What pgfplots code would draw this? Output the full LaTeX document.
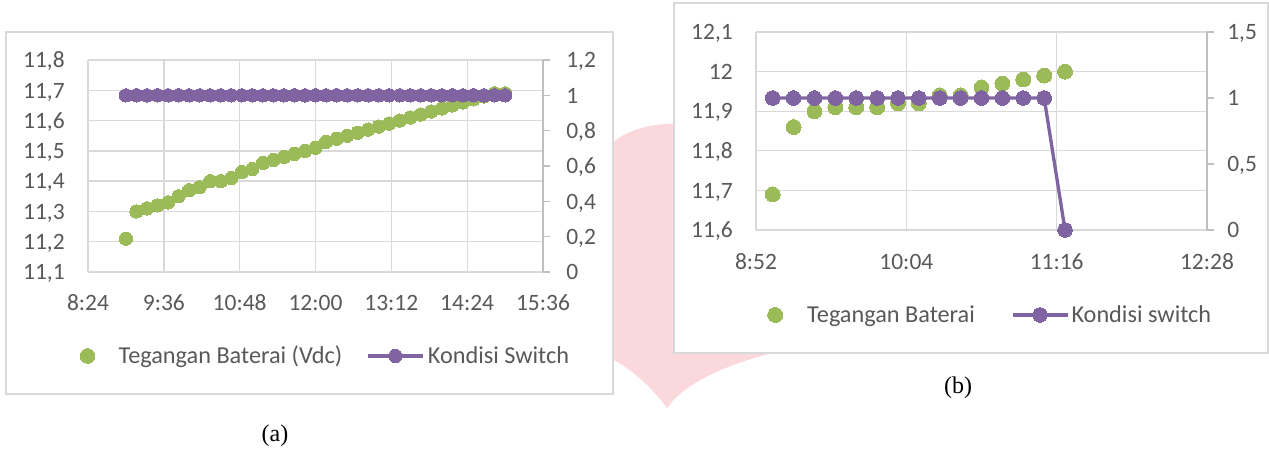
\documentclass[border=0pt]{standalone}
\usepackage{pgfplots}
\pgfplotsset{compat=1.18}
\usepackage{fontspec}
\setmainfont{Carlito}
\newfontfamily\capfont{Liberation Serif}
\definecolor{eg}{HTML}{9BBB59}
\definecolor{ep}{HTML}{8064A2}
\definecolor{gridc}{HTML}{D9D9D9}
\definecolor{axc}{HTML}{BFBFBF}
\definecolor{txt}{HTML}{595959}
\definecolor{pinkw}{RGB}{251,216,219}
\newcommand\xlf{\fontsize{17.6}{20}\selectfont}
\newcommand\lgf{\fontsize{18.2}{21}\selectfont}

\pgfplotsset{
  excelbase/.style={
    scale only axis, anchor=south west,
    tick label style={font=\xlf, text=txt, inner sep=0pt},
    /pgf/number format/use comma,
    /pgf/number format/fixed,
    /pgf/number format/precision=1,
    /pgf/number format/assume math mode=true,
  },
  greenimg/.style={legend image code/.code={\draw[##1] plot coordinates {(0pt,0pt)}; \path[draw=none,fill=none] (-5.5pt,0pt) -- (#1,0pt);}},
  purpleimg/.style={legend image code/.code={\draw[##1, mark repeat=2, mark phase=2] plot coordinates {(0pt,0pt) (20.625pt,0pt) (41.25pt,0pt)}; \path[draw=none,fill=none] (0pt,0pt) -- (#1,0pt);}},
  greensty/.style={only marks, mark=*, mark size=#1, color=eg, mark options={fill=eg, draw=eg, line width=0pt}},
  purplesty/.style={color=ep, line width=2.5pt, mark=*, mark size=#1, mark options={fill=ep, draw=ep, line width=0pt}},
}

\pgfplotstableread{
x y
540 11.21
550 11.30
560 11.31
570 11.32
580 11.33
590 11.35
600 11.37
610 11.38
620 11.40
630 11.40
640 11.41
650 11.43
660 11.44
670 11.46
680 11.47
690 11.48
700 11.49
710 11.50
720 11.51
730 11.53
740 11.54
750 11.55
760 11.56
770 11.57
780 11.58
790 11.59
800 11.60
810 11.61
820 11.62
830 11.63
840 11.64
850 11.65
860 11.66
870 11.67
880 11.68
890 11.69
900 11.69
}\teganganA

\pgfplotstableread{
x y
540 1
550 1
560 1
570 1
580 1
590 1
600 1
610 1
620 1
630 1
640 1
650 1
660 1
670 1
680 1
690 1
700 1
710 1
720 1
730 1
740 1
750 1
760 1
770 1
780 1
790 1
800 1
810 1
820 1
830 1
840 1
850 1
860 1
870 1
880 1
890 1
900 1
}\switchA

\pgfplotstableread{
x y
540 11.69
550 11.86
560 11.90
570 11.91
580 11.91
590 11.91
600 11.92
610 11.92
620 11.94
630 11.94
640 11.96
650 11.97
660 11.98
670 11.99
680 12.00
}\teganganB

\pgfplotstableread{
x y
540 1
550 1
560 1
570 1
580 1
590 1
600 1
610 1
620 1
630 1
640 1
650 1
660 1
670 1
680 0
}\switchB

\begin{document}
\begin{tikzpicture}
\begin{scope}[x=0.75pt,y=-0.75pt]
  \fill[pinkw] (606,150) .. controls (622,128) and (660,120) .. (700,125) -- (800,125) -- (800,353) -- (772,353)
     .. controls (722,366) and (684,384) .. (667,408) .. controls (652,388) and (632,368) .. (606,356) -- cycle;
  \filldraw[fill=white, draw=gridc, line width=0.8pt] (6,32) rectangle (613,394);
  \filldraw[fill=white, draw=gridc, line width=0.8pt] (674,3) rectangle (1268,353);
  \node[font=\capfont\fontsize{18}{20}\selectfont, text=black] at (275,436) {(a)};
  \node[font=\capfont\fontsize{18}{20}\selectfont, text=black] at (958,388) {(b)};
\end{scope}

% ---------------- chart (a) ----------------
\begin{axis}[excelbase,
  at={({88*0.75pt},{-272*0.75pt})},
  width=341.25pt, height=159pt,
  xmin=504, xmax=936, ymin=11.1, ymax=11.8,
  xtick={504,576,648,720,792,864,936},
  xticklabels={8:24,9:36,10:48,12:00,13:12,14:24,15:36},
  ytick={11.1,11.2,11.3,11.4,11.5,11.6,11.7,11.8},
  grid=major, grid style={gridc, line width=1pt},
  axis line style={draw=none},
  major tick length=0pt,
  xticklabel style={anchor=base, yshift=-28.8pt},
  yticklabel style={anchor=base east, xshift=-17.25pt, yshift=-5.8pt},
]
\addplot[greensty=5pt] table[x=x,y=y] {\teganganA};
\end{axis}
\begin{axis}[excelbase,
  at={({88*0.75pt},{-272*0.75pt})},
  width=341.25pt, height=159pt,
  xmin=504, xmax=936, ymin=0, ymax=1.2,
  axis x line=none, axis y line*=right,
  ytick={0,0.2,0.4,0.6,0.8,1,1.2},
  tick align=outside, major tick length=5.25pt,
  axis line style={axc, line width=1pt},
  y tick style={axc, line width=1pt},
  yticklabel style={anchor=base west, xshift=12pt, yshift=-5.8pt},
  legend columns=2, legend cell align=left,
  legend style={draw=none, fill=none, font=\lgf, text=txt,
    inner xsep=0pt, inner ysep=0pt, nodes={inner sep=0pt},
    at={(-0.0176,-0.396)}, anchor=west,
    /tikz/every even column/.append style={column sep=18pt}},
]
\addlegendimage{greensty=5.5pt, greenimg=23.25pt}
\addlegendentry{Tegangan Baterai (Vdc)}
\addplot[purplesty=5pt, purpleimg=45pt] table[x=x,y=y] {\switchA};
\addlegendentry{Kondisi Switch}
\end{axis}

% ---------------- chart (b) ----------------
\begin{axis}[excelbase,
  at={({756*0.75pt},{-230*0.75pt})},
  width=338.25pt, height=148.5pt,
  xmin=532, xmax=748, ymin=11.6, ymax=12.1,
  xtick={532,604,676,748},
  xticklabels={8:52,10:04,11:16,12:28},
  ytick={11.6,11.7,11.8,11.9,12,12.1},
  grid=major, grid style={gridc, line width=1pt},
  axis line style={draw=none},
  major tick length=0pt,
  xticklabel style={anchor=base, yshift=-29.5pt},
  yticklabel style={anchor=base east, xshift=-17.25pt, yshift=-5.8pt},
]
\addplot[greensty=5.6pt] table[x=x,y=y] {\teganganB};
\end{axis}
\begin{axis}[excelbase,
  at={({756*0.75pt},{-230*0.75pt})},
  width=338.25pt, height=148.5pt,
  xmin=532, xmax=748, ymin=0, ymax=1.5,
  axis x line=none, axis y line*=right,
  ytick={0,0.5,1,1.5},
  tick align=outside, major tick length=5.25pt,
  axis line style={axc, line width=1pt},
  y tick style={axc, line width=1pt},
  yticklabel style={anchor=base west, xshift=9.75pt, yshift=-5.8pt},
  legend columns=2, legend cell align=left,
  legend style={draw=none, fill=none, font=\lgf, text=txt,
    inner xsep=0pt, inner ysep=0pt, nodes={inner sep=0pt},
    at={(0.0255,-0.429)}, anchor=west,
    /tikz/every even column/.append style={column sep=27pt}},
]
\addlegendimage{greensty=5.6pt, greenimg=24pt}
\addlegendentry{Tegangan Baterai}
\addplot[purplesty=5.5pt, purpleimg=44.25pt] table[x=x,y=y] {\switchB};
\addlegendentry{Kondisi switch}
\end{axis}

\pgfresetboundingbox
\path[use as bounding box] (0pt,0pt) rectangle (951.75pt,-337.5pt);
\end{tikzpicture}
\end{document}
